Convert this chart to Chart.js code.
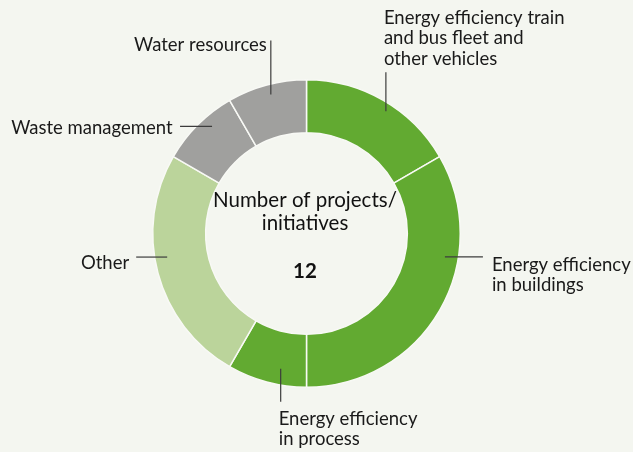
<!DOCTYPE html>
<html>
<head>
<meta charset="utf-8">
<script src="https://cdn.jsdelivr.net/npm/chart.js@4/dist/chart.umd.min.js"></script>
<style>
  html, body { margin: 0; padding: 0; background: #f4f6f0; }
  canvas { display: block; }
</style>
</head>
<body>
<canvas id="donut" width="633" height="452"></canvas>
<script>
// data
const categories = [
  ["Energy efficiency train", "and bus fleet and", "other vehicles"],
  ["Energy efficiency", "in buildings"],
  ["Energy efficiency", "in process"],
  ["Other"],
  ["Waste management"],
  ["Water resources"]
]
const projectCounts = [2, 4, 1, 3, 1, 1]
const centerTitle = ["Number of projects/", "initiatives"]

const sliceColors = ['#62aa31', '#62aa31', '#62aa31', '#bbd49b', '#a0a09e', '#a0a09e']
const FONT = '18.5px Lato, "Noto Sans", sans-serif'
const CENTER_FONT = '20.5px Lato, "Noto Sans", sans-serif'

// leader lines: where on the slice they start (t = fraction along the arc,
// r = fraction of outer radius), which way they run and how long,
// then where the text goes from the far end of the line
const leaders = [
  { t: 0.55, r: 0.948, dir: 'up',    len: 39, align: 'left',  tx: -2,   ty: -48.4 },
  { t: 0.33, r: 0.913, dir: 'right', len: 38, align: 'left',  tx: 9,    ty: 13.7 },
  { t: 0.36, r: 0.896, dir: 'down',  len: 33, align: 'left',  tx: -2,   ty: 23 },
  { t: 0.56, r: 0.919, dir: 'left',  len: 31, align: 'right', tx: -7,   ty: 12.3 },
  { t: 0.62, r: 0.929, dir: 'left',  len: 32, align: 'right', tx: -7.5, ty: 7.3 },
  { t: 0.52, r: 0.933, dir: 'up',    len: 54, align: 'right', tx: -4,   ty: 10.7 }
]
const LINE_H = 20.5

const labelPlugin = {
  id: 'leaderLabels',
  afterDatasetsDraw(chart) {
    const ctx = chart.ctx
    const arcs = chart.getDatasetMeta(0).data
    ctx.save()
    ctx.font = FONT
    ctx.fillStyle = '#1a1a1a'
    ctx.strokeStyle = '#3c3c3c'
    ctx.lineWidth = 1.2
    arcs.forEach((arc, i) => {
      const L = leaders[i]
      const a = arc.startAngle + (arc.endAngle - arc.startAngle) * L.t
      const sx = arc.x + Math.cos(a) * arc.outerRadius * L.r
      const sy = arc.y + Math.sin(a) * arc.outerRadius * L.r
      let ex = sx, ey = sy
      if (L.dir == 'up') ey -= L.len
      if (L.dir == 'down') ey += L.len
      if (L.dir == 'left') ex -= L.len
      if (L.dir == 'right') ex += L.len
      ctx.beginPath()
      ctx.moveTo(sx, sy)
      ctx.lineTo(ex, ey)
      ctx.stroke()

      ctx.textAlign = L.align
      ctx.textBaseline = 'alphabetic'
      categories[i].forEach((line, k) => {
        ctx.fillText(line, ex + L.tx, ey + L.ty + k * LINE_H)
      })
    })

    // text in the hole
    const cx = arcs[0].x - 1.5
    const cy = arcs[0].y
    ctx.textAlign = 'center'
    ctx.fillStyle = '#111'
    ctx.font = CENTER_FONT
    ctx.fillText(centerTitle[0], cx, cy - 26.8)
    ctx.fillText(centerTitle[1], cx, cy - 3.5)
    const total = projectCounts.reduce((s, v) => s + v, 0)
    ctx.font = 'bold ' + CENTER_FONT
    ctx.fillText(String(total), cx, cy + 44.5)
    ctx.restore()
  }
}

new Chart(document.getElementById('donut'), {
  type: 'doughnut',
  data: {
    labels: categories.map(c => c.join(' ')),
    datasets: [{
      data: projectCounts,
      backgroundColor: sliceColors,
      borderColor: '#f8f9f5',
      borderWidth: 1.5,
      hoverOffset: 0
    }]
  },
  options: {
    responsive: false,
    devicePixelRatio: 1,
    animation: false,
    cutout: '65.6%',
    layout: {
      padding: { top: 79, bottom: 64, left: 152, right: 172 }
    },
    plugins: {
      legend: { display: false },
      tooltip: { enabled: false }
    },
    events: []
  },
  plugins: [labelPlugin]
})
</script>
</body>
</html>
